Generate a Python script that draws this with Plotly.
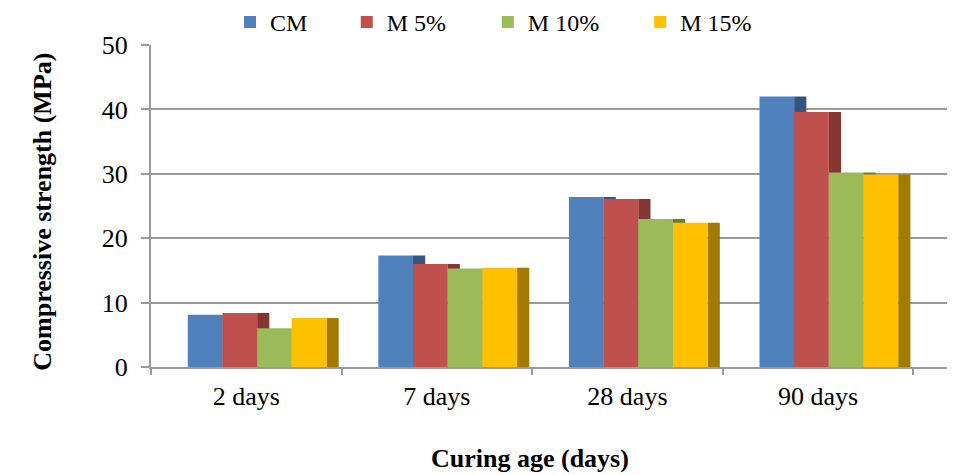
import plotly.graph_objects as go

categories = ["2 days", "7 days", "28 days", "90 days"]
series_names = ["CM", "M 5%", "M 10%", "M 15%"]
cm = [8.1, 17.3, 26.4, 42.0]
m5 = [8.4, 16.0, 26.1, 39.6]
m10 = [6.0, 15.3, 23.0, 30.2]
m15 = [7.6, 15.4, 22.4, 29.9]
series_values = [cm, m5, m10, m15]

front_colors = ["#4F81BD", "#C0504D", "#9BBB59", "#FFC000"]
side_colors = ["#34557F", "#853532", "#62802F", "#A37B00"]

FONT = "Liberation Serif"
front_w = 0.182
side_w = 0.064
start = -0.307

# page body has an 8px margin, so the figure is laid out 8px up/left
PAGE = 8
W0, W1 = 151.0, 946.7      # plot area x (screen px)
H0, H1 = 44.7, 366.7       # plot area y (screen px)
FIG_W, FIG_H = 957 - PAGE, 475 - PAGE
legend_sym_px = [242.0, 358.7, 499.7, 652.0]

fig = go.Figure()
for i, (name, vals) in enumerate(zip(series_names, series_values)):
    off = start + i * front_w
    fig.add_trace(go.Bar(
        x=categories, y=vals, name=name + " side", showlegend=False,
        offset=off + front_w, width=side_w,
        marker=dict(color=side_colors[i], line=dict(width=0)),
        hoverinfo="skip",
    ))
    lg = "legend" if i == 0 else f"legend{i+1}"
    fig.add_trace(go.Bar(
        x=categories, y=vals, name=name, legend=lg,
        offset=off, width=front_w,
        marker=dict(color=front_colors[i], line=dict(width=0)),
    ))

PW, PH = W1 - W0, H1 - H0
layout_legends = {}
for i in range(4):
    key = "legend" if i == 0 else f"legend{i+1}"
    lx = (legend_sym_px[i] - 12 - W0) / PW
    layout_legends[key] = dict(
        x=lx, xanchor="left", y=(H1 - 22) / PH, yanchor="middle",
        orientation="h", bgcolor="rgba(0,0,0,0)", borderwidth=0,
        font=dict(family=FONT, size=24, color="#000000"),
        itemclick=False, itemdoubleclick=False,
    )

grid_color = "#9A9A9A"
fig.update_layout(
    width=FIG_W, height=FIG_H,
    margin=dict(l=W0 - PAGE, r=FIG_W - (W1 - PAGE), t=H0 - PAGE, b=FIG_H - (H1 - PAGE), autoexpand=False),
    paper_bgcolor="white", plot_bgcolor="white",
    barmode="overlay",
    font=dict(family=FONT, size=26, color="#000000"),
    xaxis=dict(
        type="category", range=[-0.5, 3.677],
        showline=True, linecolor=grid_color, linewidth=2,
        ticks="outside", tickson="boundaries", ticklen=6, tickcolor=grid_color, tickwidth=1.5,
        showgrid=False,
        tickfont=dict(family=FONT, size=26, color="#000000"),
        ticklabelstandoff=5,
    ),
    yaxis=dict(
        range=[0, 50], tickvals=[0, 10, 20, 30, 40, 50],
        showline=True, linecolor=grid_color, linewidth=2,
        ticks="outside", ticklen=8, tickcolor=grid_color, tickwidth=1.5,
        showgrid=True, gridcolor=grid_color, gridwidth=2,
        zeroline=False,
        tickfont=dict(family=FONT, size=26, color="#000000"),
        ticklabelstandoff=8,
    ),
    annotations=[
        dict(text="<b>Compressive strength (MPa)</b>", xref="paper", yref="paper",
             x=(43 - W0) / PW, y=(H1 - 211.5) / PH, xanchor="center", yanchor="middle",
             textangle=-90, showarrow=False, font=dict(family=FONT, size=26, color="#000000")),
        dict(text="<b>Curing age (days)</b>", xref="paper", yref="paper",
             x=(530 - W0) / PW, y=(H1 - 458) / PH, xanchor="center", yanchor="middle",
             showarrow=False, font=dict(family=FONT, size=26, color="#000000")),
    ],
    **layout_legends,
)

fig.write_html("out.html")
